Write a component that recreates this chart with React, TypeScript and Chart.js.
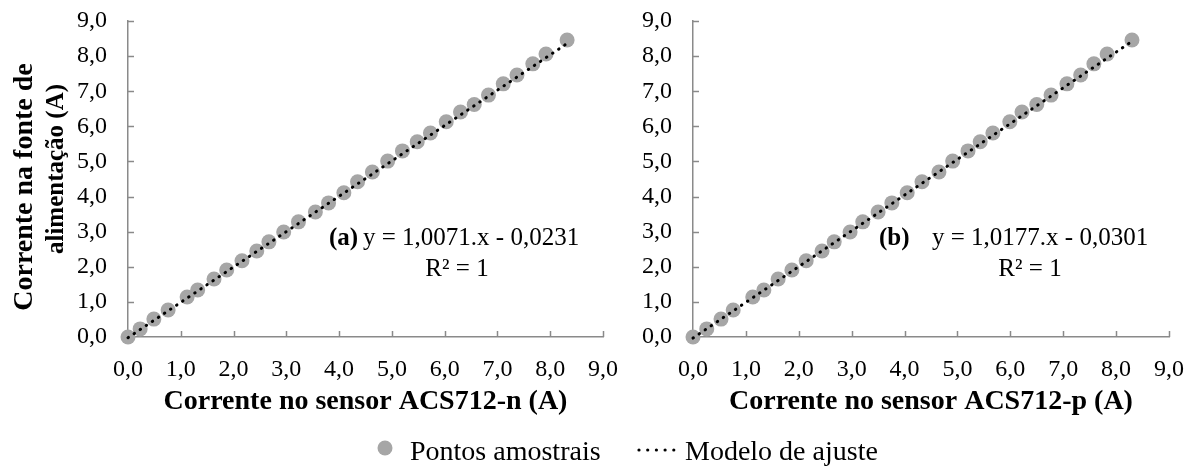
import React, { useEffect, useRef } from 'react';
import { Chart, registerables } from 'chart.js';

Chart.register(...registerables);

// ---- Data ----
const supplyCurrent = [
  0, 0.23, 0.51, 0.77, 1.14, 1.34, 1.65, 1.91, 2.17, 2.45, 2.71, 2.99, 3.28, 3.56, 3.82,
  4.11, 4.42, 4.7, 5.01, 5.3, 5.56, 5.81, 6.13, 6.41, 6.62, 6.89, 7.21, 7.46, 7.78, 8.06, 8.46,
];
const sensorN = [
  0, 0.23, 0.49, 0.76, 1.12, 1.32, 1.63, 1.87, 2.16, 2.44, 2.67, 2.95, 3.23, 3.55, 3.8,
  4.09, 4.35, 4.63, 4.92, 5.2, 5.48, 5.73, 6.03, 6.3, 6.56, 6.83, 7.11, 7.37, 7.67, 7.92, 8.32,
];
const sensorP = [
  0, 0.26, 0.53, 0.76, 1.13, 1.34, 1.61, 1.87, 2.14, 2.44, 2.67, 2.97, 3.21, 3.5, 3.76,
  4.05, 4.33, 4.65, 4.91, 5.2, 5.43, 5.67, 5.99, 6.22, 6.5, 6.77, 7.07, 7.33, 7.58, 7.83, 8.3,
];
const fitNx = [0, 8.32];
const fitNy = [-0.02, 8.36];
const fitPx = [0, 8.3];
const fitPy = [-0.03, 8.42];
const tickLabels = ['0,0', '1,0', '2,0', '3,0', '4,0', '5,0', '6,0', '7,0', '8,0', '9,0'];
const legendLabels = ['Pontos amostrais', 'Modelo de ajuste'];
const xTitles = ['Corrente no sensor ACS712-n (A)', 'Corrente no sensor ACS712-p (A)'];
const yTitleLines = ['Corrente na fonte de', 'alimentação (A)'];
const panelTags = ['(a)', '(b)'];
const equations = ['y = 1,0071.x - 0,0231', 'y = 1,0177.x - 0,0301'];
const r2Text = 'R² = 1';

const FAMILY = '"Liberation Serif", "Times New Roman", serif';
const AXIS = '#8a8a8a';
const POINT = '#a6a6a6';

const innerTicks = {
  id: 'innerTicks',
  beforeDatasetsDraw(chart: any) {
    const { ctx, chartArea, scales } = chart;
    ctx.save();
    ctx.strokeStyle = AXIS;
    ctx.lineWidth = 1.5;
    ctx.beginPath();
    scales.x.ticks.forEach((t: any) => {
      const px = Math.round(scales.x.getPixelForValue(t.value)) + 0.5;
      ctx.moveTo(px, chartArea.bottom);
      ctx.lineTo(px, chartArea.bottom - 6);
    });
    scales.y.ticks.forEach((t: any) => {
      const py = Math.round(scales.y.getPixelForValue(t.value)) + 0.5;
      ctx.moveTo(chartArea.left, py);
      ctx.lineTo(chartArea.left + 6, py);
    });
    ctx.stroke();
    ctx.restore();
  },
};

function textPlugin(idx: number, tagX: number, eqX: number, r2X: number, withYTitle: boolean) {
  return {
    id: 'texts' + idx,
    afterDraw(chart: any) {
      const { ctx } = chart;
      ctx.save();
      ctx.fillStyle = '#000';
      ctx.textBaseline = 'alphabetic';
      ctx.textAlign = 'left';
      ctx.font = `bold 25px ${FAMILY}`;
      ctx.fillText(panelTags[idx], tagX, 245);
      ctx.font = `25px ${FAMILY}`;
      ctx.fillText(equations[idx], eqX, 245);
      ctx.textAlign = 'center';
      ctx.fillText(r2Text, r2X, 276);
      if (withYTitle) {
        ctx.textBaseline = 'middle';
        ctx.save();
        ctx.translate(25, 187);
        ctx.rotate(-Math.PI / 2);
        ctx.font = `bold 28px ${FAMILY}`;
        ctx.fillText(yTitleLines[0], 0, 0);
        ctx.restore();
        ctx.save();
        ctx.translate(57, 169);
        ctx.rotate(-Math.PI / 2);
        ctx.font = `bold 25px ${FAMILY}`;
        ctx.fillText(yTitleLines[1], 0, 0);
        ctx.restore();
      }
      ctx.restore();
    },
  };
}

function buildChart(
  canvas: HTMLCanvasElement,
  idx: number,
  xs: number[],
  fx: number[],
  fy: number[],
  yWidth: number,
  padRight: number,
  plugin: any,
) {
  const points = xs.map((x, i) => ({ x, y: supplyCurrent[i] }));
  const fit = fx.map((x, i) => ({ x, y: fy[i] }));
  const tickFont = { family: FAMILY, size: 24 };
  return new Chart(canvas, {
    type: 'scatter',
    data: {
      datasets: [
        {
          label: legendLabels[1],
          data: fit,
          showLine: true,
          borderColor: '#000',
          borderWidth: 3,
          borderDash: [0.5, 6.8],
          borderCapStyle: 'round',
          pointRadius: 0,
          pointHoverRadius: 0,
          order: 0,
          clip: false,
        } as any,
        {
          label: legendLabels[0],
          data: points,
          backgroundColor: POINT,
          borderWidth: 0,
          pointRadius: 7.5,
          pointHoverRadius: 7.5,
          order: 1,
          clip: false,
        } as any,
      ],
    },
    options: {
      responsive: false,
      animation: false,
      devicePixelRatio: 1,
      events: [],
      layout: { padding: { left: 0, top: 21, right: padRight, bottom: 0 } },
      plugins: { legend: { display: false }, tooltip: { enabled: false } },
      scales: {
        x: {
          type: 'linear',
          min: 0,
          max: 9,
          ticks: {
            stepSize: 1,
            padding: 1,
            color: '#000',
            font: tickFont,
            maxRotation: 0,
            callback: (_v: any, i: number) => tickLabels[i],
          },
          grid: { display: false, drawTicks: true, tickLength: 17 },
          border: { display: true, color: AXIS, width: 1.5 },
          title: {
            display: true,
            text: xTitles[idx],
            color: '#000',
            font: { family: FAMILY, size: 28, weight: 'bold' },
            padding: { top: 0, bottom: 1 },
          },
          afterFit: (s: any) => {
            s.height = 83;
          },
        },
        y: {
          type: 'linear',
          min: 0,
          max: 9,
          ticks: {
            stepSize: 1,
            padding: 1,
            color: '#000',
            font: tickFont,
            callback: (_v: any, i: number) => tickLabels[i],
          },
          grid: { display: false, drawTicks: true, tickLength: 20 },
          border: { display: true, color: AXIS, width: 1.5 },
          afterFit: (s: any) => {
            s.width = yWidth;
          },
        },
      },
    } as any,
    plugins: [innerTicks, plugin],
  });
}

function drawLegend(canvas: HTMLCanvasElement) {
  const ctx = canvas.getContext('2d');
  if (!ctx) return;
  ctx.clearRect(0, 0, canvas.width, canvas.height);
  ctx.fillStyle = POINT;
  ctx.beginPath();
  ctx.arc(385, 28, 7.5, 0, Math.PI * 2);
  ctx.fill();
  ctx.fillStyle = '#000';
  for (let i = 0; i < 5; i++) {
    ctx.beginPath();
    ctx.arc(639 + i * 8.7, 30, 1.6, 0, Math.PI * 2);
    ctx.fill();
  }
  ctx.font = `28px ${FAMILY}`;
  ctx.textBaseline = 'alphabetic';
  ctx.textAlign = 'left';
  ctx.fillText(legendLabels[0], 410, 40);
  ctx.fillText(legendLabels[1], 685, 40);
}

export default function App() {
  const leftRef = useRef<HTMLCanvasElement>(null);
  const rightRef = useRef<HTMLCanvasElement>(null);
  const legendRef = useRef<HTMLCanvasElement>(null);

  useEffect(() => {
    const charts: Chart[] = [];
    if (leftRef.current) {
      charts.push(
        buildChart(leftRef.current, 0, sensorN, fitNx, fitNy, 128, 17, textPlugin(0, 329, 363, 457, true)),
      );
    }
    if (rightRef.current) {
      charts.push(
        buildChart(rightRef.current, 1, sensorP, fitPx, fitPy, 73, 25, textPlugin(1, 259, 312, 410, false)),
      );
    }
    if (legendRef.current) drawLegend(legendRef.current);
    return () => charts.forEach((c) => c.destroy());
  }, []);

  return (
    <div style={{ position: 'fixed', left: 0, top: 0, width: 1194, height: 466, background: '#fff' }}>
      <canvas ref={leftRef} width={620} height={420} style={{ position: 'absolute', left: 0, top: 0 }} />
      <canvas ref={rightRef} width={574} height={420} style={{ position: 'absolute', left: 620, top: 0 }} />
      <canvas ref={legendRef} width={1194} height={46} style={{ position: 'absolute', left: 0, top: 420 }} />
    </div>
  );
}
